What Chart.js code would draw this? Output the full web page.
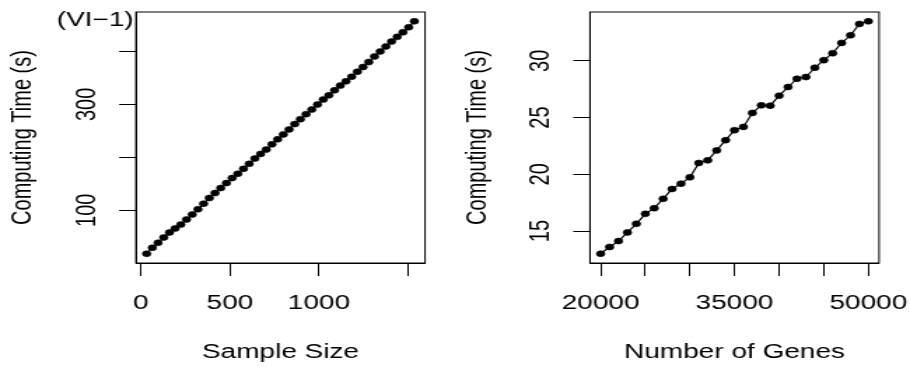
<!DOCTYPE html>
<html>
<head>
<meta charset="utf-8">
<script src="https://cdn.jsdelivr.net/npm/chart.js@4.4.1/dist/chart.umd.min.js"></script>
<style>
  html, body { margin: 0; padding: 0; background: #fff; }
  #wrap { position: relative; width: 910px; height: 367px; overflow: hidden; }
  /* each panel is drawn narrow and widened horizontally */
  canvas { position: absolute; top: 0; transform-origin: 0 0; transform: scaleX(1.4); }
  #sizeChart { left: 0; }
  #geneChart { left: 455px; }
</style>
</head>
<body>
<div id="wrap">
  <canvas id="sizeChart" width="325" height="367"></canvas>
  <canvas id="geneChart" width="325" height="367"></canvas>
</div>
<script>
// Panel 1: computing time against sample size
const sampleSizes = [32, 64, 96, 128, 160, 192, 224, 256, 288, 320, 352, 384, 416, 448, 480, 512,
  544, 576, 608, 640, 672, 704, 736, 768, 800, 832, 864, 896, 928, 960, 992, 1024,
  1056, 1088, 1120, 1152, 1184, 1216, 1248, 1280, 1312, 1344, 1376, 1408, 1440, 1472, 1504, 1536];
const sampleTimes = [18.0, 29.2, 38.6, 48.6, 58.0, 65.6, 73.1, 82.5, 91.9, 101.9, 112.5, 123.2,
  132.6, 142.0, 151.4, 160.8, 168.9, 178.3, 187.7, 197.7, 206.5, 214.6, 224.6, 234.0,
  243.4, 252.8, 262.8, 272.2, 281.6, 290.4, 299.8, 309.2, 317.3, 326.7, 335.5, 343.6,
  352.4, 361.8, 370.6, 380.0, 390.6, 400.0, 409.4, 418.8, 427.6, 436.3, 445.7, 457.0];
const sizeTicks = [0, 500, 1000, 1500];
const sizeTickLabels = ['0', '500', '1000', ''];
const sizeTimeTicks = [100, 200, 300, 400];
const sizeTimeTickLabels = ['100', '', '300', ''];

// Panel 2: computing time against number of genes
const geneCounts = [20000, 21000, 22000, 23000, 24000, 25000, 26000, 27000, 28000, 29000, 30000,
  31000, 32000, 33000, 34000, 35000, 36000, 37000, 38000, 39000, 40000,
  41000, 42000, 43000, 44000, 45000, 46000, 47000, 48000, 49000, 50000];
const geneTimes = [13.01, 13.60, 14.12, 14.88, 15.64, 16.52, 17.02, 17.84, 18.71, 19.18, 19.74,
  21.00, 21.23, 22.11, 23.01, 23.89, 24.18, 25.41, 26.08, 26.05, 26.93,
  27.69, 28.42, 28.57, 29.39, 30.06, 30.67, 31.58, 32.25, 33.25, 33.48];
const geneTicks = [20000, 25000, 30000, 35000, 40000, 45000, 50000];
const geneTickLabels = ['20000', '', '', '35000', '', '', '50000'];
const geneTimeTicks = [15, 20, 25, 30];
const geneTimeTickLabels = ['15', '20', '25', '30'];

const FONT = { family: '"Liberation Sans", Arial, Helvetica, sans-serif', size: 20 };
const INK = '#000';

// frame around the plotting region
const framePlugin = {
  id: 'frame',
  afterDraw(chart) {
    const a = chart.chartArea, ctx = chart.ctx;
    ctx.save();
    ctx.strokeStyle = INK;
    ctx.lineWidth = 1;
    ctx.strokeRect(a.left, a.top, a.right - a.left, a.bottom - a.top);
    ctx.restore();
  }
};

// panel tag in the upper left corner
function tagPlugin(text, x, y) {
  return {
    id: 'tag',
    afterDraw(chart) {
      const ctx = chart.ctx;
      ctx.save();
      ctx.fillStyle = INK;
      ctx.font = FONT.size + 'px ' + FONT.family;
      ctx.textAlign = 'left';
      ctx.textBaseline = 'alphabetic';
      ctx.fillText(text, x, y);
      ctx.restore();
    }
  };
}

function makePanel(id, p) {
  const ctx = document.getElementById(id);
  return new Chart(ctx, {
    type: 'scatter',
    data: {
      datasets: [{
        data: p.xs.map((x, i) => ({ x: x, y: p.ys[i] })),
        showLine: true,
        borderColor: INK,
        borderWidth: 1.2,
        tension: 0,
        pointRadius: 3,
        pointBorderWidth: 0.6,
        pointBackgroundColor: INK,
        pointBorderColor: INK
      }]
    },
    options: {
      responsive: false,
      devicePixelRatio: 1,
      animation: false,
      events: [],
      layout: { padding: { left: 0, top: 12, right: p.padRight, bottom: 0 } },
      plugins: { legend: { display: false }, tooltip: { enabled: false } },
      scales: {
        x: {
          type: 'linear',
          min: p.xMin, max: p.xMax,
          afterBuildTicks: s => { s.ticks = p.xTicks.map(v => ({ value: v })); },
          // fixed axis band; labels may run into the side margins
          afterFit: s => { s.height = 104; s.paddingLeft = 0; s.paddingRight = 0; },
          grid: { drawOnChartArea: false, drawTicks: true, tickLength: 13, color: INK, lineWidth: 1 },
          border: { display: true, color: INK, width: 1 },
          ticks: {
            autoSkip: false, minRotation: 0, maxRotation: 0, padding: 15,
            color: INK, font: FONT,
            callback: (v, i) => p.xLabels[i]
          },
          title: { display: true, text: p.xTitle, color: INK, font: FONT, padding: { top: 0, bottom: 3 } }
        },
        y: {
          type: 'linear',
          min: p.yMin, max: p.yMax,
          afterBuildTicks: s => { s.ticks = p.yTicks.map(v => ({ value: v })); },
          afterFit: s => { s.width = p.yWidth; s.paddingTop = 0; s.paddingBottom = 0; },
          grid: { drawOnChartArea: false, drawTicks: true, tickLength: 12, color: INK, lineWidth: 1 },
          border: { display: true, color: INK, width: 1 },
          ticks: {
            autoSkip: false, minRotation: 90, maxRotation: 90, crossAlign: 'center',
            padding: p.yTickPad, color: INK, font: FONT,
            callback: (v, i) => p.yLabels[i]
          },
          title: { display: true, text: 'Computing Time (s)', color: INK, font: FONT, padding: { top: 4, bottom: 0 } }
        }
      }
    },
    plugins: p.plugins
  });
}

makePanel('sizeChart', {
  xs: sampleSizes, ys: sampleTimes,
  xMin: -28.2, xMax: 1596.2, yMin: 0.44, yMax: 474.56,
  xTicks: sizeTicks, xLabels: sizeTickLabels,
  yTicks: sizeTimeTicks, yLabels: sizeTimeTickLabels,
  xTitle: 'Sample Size',
  yWidth: 97.1, padRight: 21.4, yTickPad: 6.3,
  plugins: [framePlugin, tagPlugin('(VI\u22121)', 40.5, 26)]
});

makePanel('geneChart', {
  xs: geneCounts, ys: geneTimes,
  xMin: 18800, xMax: 51200, yMin: 12.19, yMax: 34.30,
  xTicks: geneTicks, xLabels: geneTickLabels,
  yTicks: geneTimeTicks, yLabels: geneTimeTickLabels,
  xTitle: 'Number of Genes',
  yWidth: 96.4, padRight: 22.1, yTickPad: 11.4,
  plugins: [framePlugin]
});
</script>
</body>
</html>
